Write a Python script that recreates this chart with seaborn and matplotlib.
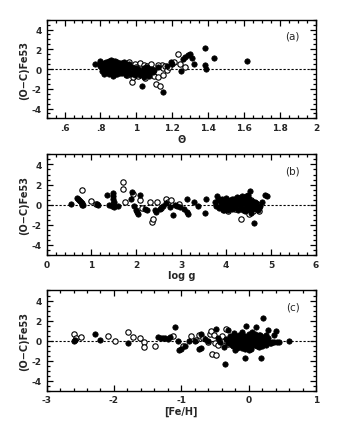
import numpy as np
import pandas as pd
import matplotlib
matplotlib.use("Agg")
import matplotlib.pyplot as plt
from matplotlib.ticker import MultipleLocator, FuncFormatter
import seaborn as sns

# panel (a): residual vs theta
theta_fill_x = [0.77, 0.80, 0.80, 0.81, 0.81, 0.82, 0.82, 0.83, 0.83, 0.84, 0.84, 0.84, 0.85, 0.85,
                0.86, 0.86, 0.86, 0.87, 0.87, 0.87, 0.88, 0.88, 0.89, 0.89, 0.89, 0.90, 0.90, 0.91,
                0.91, 0.92, 0.92, 0.93, 0.93, 0.94, 0.94, 0.95, 0.95, 0.96, 0.97, 0.97, 0.98, 0.99,
                1.00, 1.01, 1.02, 1.03, 1.03, 1.04, 1.05, 1.06, 1.07, 1.08, 1.09, 1.10, 1.12, 1.15,
                1.17, 1.19, 1.20, 1.25, 1.26, 1.27, 1.29, 1.30, 1.31, 1.32, 1.38, 1.38, 1.39, 1.43,
                1.615, 0.81, 0.82, 0.83, 0.85, 0.86, 0.88, 0.90, 0.90, 0.92, 0.84, 0.87, 0.91,
                0.80, 0.82, 0.83, 0.85, 0.86, 0.88, 0.89, 0.91, 0.93, 0.94, 0.96, 0.98, 1.00, 1.02,
                1.04, 1.06, 0.85, 0.87, 0.89, 0.92, 0.95, 0.99, 1.03, 1.07]
theta_fill_y = [0.5, 0.83, 0.3, 0.1, -0.2, 0.6, -0.5, 0.4, 0.0, 0.7, -0.3, 0.2, 0.5, -0.1,
                0.9, 0.3, -0.4, 0.6, 0.1, -0.7, 0.4, -0.2, 0.7, 0.0, -0.5, 0.3, -0.3, 0.6,
                0.1, 0.4, -0.4, 0.2, -0.1, 0.5, -0.6, 0.0, 0.3, -0.3, 0.2, -0.5, 0.1, -0.2,
                -0.4, 0.0, -0.6, -0.3, -1.73, 0.1, -0.5, -0.2, -0.7, 0.0, -0.3, -0.1, 0.2, -2.33,
                0.3, 0.67, 0.5, -0.17, 1.0, 1.17, 1.4, 1.57, 1.07, 0.5, 2.17, 0.43, 0.0, 1.07,
                0.83, 0.5, 0.2, -0.3, 0.8, 0.0, 0.8, 0.5, 0.0, -0.2, -0.1, 0.35, -0.45,
                0.6, -0.1, 0.7, 0.2, 0.5, -0.3, 0.4, -0.1, 0.7, 0.2, 0.5, -0.4, 0.1, -0.2,
                -0.8, 0.2, -0.5, 0.8, -0.1, 0.6, -0.2, -0.6, -0.5, -0.4]
theta_open_x = [0.88, 0.93, 0.95, 0.96, 0.975, 0.98, 0.99, 1.00, 1.01, 1.02, 1.03, 1.04, 1.05, 1.06,
                1.07, 1.08, 1.09, 1.10, 1.11, 1.12, 1.13, 1.14, 1.15, 1.16, 1.17, 1.18, 1.21, 1.233,
                1.24, 1.27, 1.15, 1.05, 0.97, 1.12]
theta_open_y = [-0.5, 0.6, -0.6, 0.7, -1.33, -0.8, 0.5, 0.2, -0.7, 0.6, -0.1, 0.4, -0.9, 0.3,
                -0.4, 0.5, -0.1, -0.75, -1.5, -0.8, -1.73, 0.4, 0.1, 0.3, -0.1, 0.2, 0.7, 1.5,
                0.5, 0.2, -0.6, 0.1, 0.0, 0.4]

# panel (b): residual vs log g
logg_fill_x = [0.54, 0.68, 0.70, 0.72, 0.74, 0.76, 0.78, 0.80, 0.82, 1.12, 1.15, 1.35, 1.40, 1.45,
               1.48, 1.48, 1.49, 1.50, 1.50, 1.60, 1.89, 1.91, 1.95, 2.00, 2.02, 2.03, 2.07, 2.20,
               2.23, 2.41, 2.43, 2.52, 2.60, 2.65, 2.75, 2.81, 2.85, 2.90, 2.97, 3.05, 3.12, 3.13,
               3.16, 3.29, 3.38, 3.52, 3.56, 3.75, 3.78, 3.80, 3.82, 3.85, 3.88, 3.90, 3.92, 3.95,
               3.97, 4.00, 4.02, 4.05, 4.07, 4.10, 4.12, 4.15, 4.18, 4.20, 4.22, 4.25, 4.27, 4.30,
               4.32, 4.35, 4.38, 4.40, 4.42, 4.45, 4.47, 4.48, 4.50, 4.52, 4.52, 4.55, 4.57, 4.60,
               4.62, 4.63, 4.65, 4.70, 4.75, 4.79, 4.86, 4.90, 4.45, 4.50, 4.05,
               3.83, 3.87, 3.93, 3.98, 4.03, 4.08, 4.13, 4.17, 4.23, 4.28, 4.33, 4.37, 4.43, 4.46,
               4.49, 4.53, 4.58, 4.61, 4.66, 4.72, 3.95, 4.25, 4.35, 4.55]
logg_fill_y = [0.07, 0.7, 0.6, 0.5, 0.4, 0.3, 0.2, 0.0, -0.05, 0.05, 0.0, 1.0, 0.0, -0.1,
               1.2, 0.9, 0.6, 0.3, -0.2, -0.1, 0.57, 1.23, -0.1, -0.5, -0.7, -0.93, 1.0, -0.43,
               -0.57, -0.5, -0.77, -0.4, -0.1, 0.2, -0.2, -1.03, 0.0, -0.1, -0.27, -0.4, 0.57, -0.77,
               -0.93, 0.3, -0.1, -0.87, 0.57, 0.3, -0.1, 0.9, 0.5, -0.3, 0.2, 0.6, -0.5, 0.0,
               0.4, 0.7, -0.2, 0.3, 0.1, 0.5, -0.4, 0.2, 0.6, -0.1, 0.3, 0.8, -0.5, 0.1,
               0.5, -0.3, 0.2, 0.7, -0.6, 0.0, 0.4, 1.0, -0.2, 1.33, 0.3, -0.8, 0.1, -0.4,
               -1.83, 0.3, -0.2, -0.5, -0.1, 0.23, 1.0, 0.83, 0.9, 0.6, -0.5,
               0.6, -0.2, 0.3, -0.3, 0.5, -0.1, 0.6, -0.3, 0.4, 0.0, 0.6, -0.5, 0.5, -0.4,
               0.8, -0.5, 0.4, 0.0, 0.2, -0.3, -0.5, 0.2, 0.9, -0.2]
logg_open_x = [0.79, 1.00, 1.11, 1.47, 1.71, 1.71, 1.74, 1.93, 2.08, 2.12, 2.30, 2.34, 2.36, 2.45,
               2.55, 2.67, 2.70, 2.78, 2.95, 3.90, 4.00, 4.05, 4.15, 4.20, 4.28, 4.34, 4.40, 4.45,
               4.50, 4.55, 4.60, 4.65, 4.68, 4.72, 3.85, 4.10]
logg_open_y = [1.47, 0.4, 0.07, 0.1, 2.23, 1.57, 0.23, 1.07, 0.47, -0.33, 0.23, -1.77, -1.43, 0.3,
               -0.3, 0.57, 0.3, 0.5, 0.1, -0.3, 0.2, -0.6, 0.5, -0.4, 0.7, -1.43, -0.2, 0.3,
               -0.9, 0.5, -0.6, -0.3, 0.1, -0.6, 0.1, 0.0]

# panel (c): residual vs [Fe/H]
feh_fill_x = [-2.60, -2.58, -2.28, -2.21, -1.79, -1.34, -1.30, -1.27, -1.24, -1.20, -1.17, -1.09,
              -1.05, -1.04, -1.00, -0.95, -0.88, -0.80, -0.71, -0.71, -0.73, -0.65, -0.60, -0.49,
              -0.45, -0.42, -0.35, -0.36, -0.30, -0.28, -0.25, -0.22, -0.20, -0.18, -0.15, -0.13,
              -0.10, -0.08, -0.06, -0.05, -0.04, -0.02, 0.00, 0.02, 0.04, 0.05, 0.07, 0.09, 0.11,
              0.12, 0.14, 0.16, 0.18, 0.18, 0.20, 0.22, 0.23, 0.25, 0.27, 0.29, 0.31, 0.35, 0.37,
              0.41, 0.42, 0.45, 0.60, -0.33, -0.27, -0.23, -0.17, -0.12, -0.07, -0.03, 0.01, 0.03,
              0.06, 0.08, 0.10, 0.13, 0.15, 0.17, -0.20, 0.00, -0.10, 0.05,
              -0.28, -0.24, -0.21, -0.19, -0.16, -0.14, -0.11, -0.09, -0.06, -0.04, -0.01, 0.02,
              0.04, 0.07, 0.09, 0.12, 0.14, 0.17, 0.19, 0.21, 0.24, 0.26, 0.28, -0.30, -0.26,
              -0.20, -0.15, -0.10, -0.05, 0.00, 0.05, 0.10, 0.15, 0.20, 0.25, 0.33, 0.38]
feh_fill_y = [-0.07, 0.05, 0.67, 0.07, -0.27, 0.4, 0.3, 0.25, 0.3, 0.2, 0.35, 1.4,
              0.0, -0.93, -0.87, -0.5, 0.0, 0.0, 0.63, -0.77, -0.8, 0.2, 0.0, 1.13,
              0.3, -0.1, -2.33, -0.6, 1.07, 0.5, -0.4, 0.8, 0.1, -0.7, 0.4, -0.2,
              0.6, -0.5, -1.77, 0.2, 1.5, -0.3, 0.5, 0.0, -0.8, 0.3, -0.2, 0.7, 1.33,
              -0.5, 0.1, -0.3, -1.7, 0.4, -0.1, 2.23, 0.2, -0.4, 0.0, 1.07, -0.2, -0.1, 0.57,
              0.97, -0.1, -0.15, 0.0, 0.2, -0.2, 0.3, -0.4, 0.3, 0.0, -0.6, 0.7, 0.2,
              -0.4, 0.4, -0.1, 0.5, -0.6, 0.2, -0.9, -0.9, 0.9, 0.9,
              0.1, -0.5, 0.5, 0.0, -0.6, 0.6, -0.3, 0.3, -0.8, 0.1, 0.4, -0.6,
              0.6, 0.1, -0.4, 0.3, -0.1, 0.6, -0.3, 0.4, 0.1, -0.2, 0.3, -0.2, 0.4,
              -0.3, 0.2, -0.7, 0.5, -0.1, 0.1, -0.2, 0.6, -0.5, 0.6, -0.2, -0.15]
feh_open_x = [-2.59, -2.56, -2.49, -2.09, -1.99, -1.79, -1.71, -1.61, -1.56, -1.56, -1.39, -1.12,
              -0.97, -0.85, -0.78, -0.74, -0.68, -0.57, -0.56, -0.52, -0.50, -0.55, -0.49, -0.45,
              -0.40, -0.33, -0.30, -0.25, -0.15, -0.05, 0.05, 0.10, -0.60, -0.40]
feh_open_y = [0.63, 0.23, 0.4, 0.5, -0.03, 0.9, 0.4, 0.3, -0.17, -0.6, -0.53, 0.5,
              -0.5, 0.5, 0.07, 0.57, 0.3, 0.67, 1.0, 0.57, -0.2, -1.33, -1.43, -0.4,
              0.0, 1.17, -0.3, 0.2, -0.2, 0.3, -0.3, 0.1, -0.1, 0.5]

sns.set_style("ticks")
plt.rcParams['font.family'] = ['DejaVu Sans']

fig = plt.figure(figsize=(3.5, 4.39), dpi=100)
boxes = [[0.133, 0.728, 0.77, 0.225],
         [0.133, 0.417, 0.77, 0.229],
         [0.133, 0.108, 0.77, 0.228]]

panels = [
    (theta_fill_x, theta_fill_y, theta_open_x, theta_open_y, (0.5, 2), 0.2, 0.05, "Θ", "(a)"),
    (logg_fill_x, logg_fill_y, logg_open_x, logg_open_y, (0, 6), 1, 0.2, "log g", "(b)"),
    (feh_fill_x, feh_fill_y, feh_open_x, feh_open_y, (-3, 1), 1, 0.2, "[Fe/H]", "(c)"),
]


def fmt_a(v, pos):
    s = "%g" % round(v, 2)
    if s.startswith("0."):
        s = s[1:]
    return s


for i, (fx, fy, ox, oy, xlim, major, minor, xlab, tag) in enumerate(panels):
    ax = fig.add_axes(boxes[i])
    df_f = pd.DataFrame({"x": fx, "y": fy})
    df_o = pd.DataFrame({"x": ox, "y": oy})
    ax.axhline(0, color="black", lw=0.8, ls=(0, (2, 1.6)), zorder=1)
    sns.scatterplot(data=df_o, x="x", y="y", ax=ax, s=15, facecolor="white",
                    edgecolor="black", linewidth=0.8, zorder=3)
    sns.scatterplot(data=df_f, x="x", y="y", ax=ax, s=15, color="black",
                    edgecolor="black", linewidth=0.5, zorder=4)
    ax.set_xlim(*xlim)
    ax.set_ylim(-5, 5)
    ax.xaxis.set_major_locator(MultipleLocator(major))
    ax.xaxis.set_minor_locator(MultipleLocator(minor))
    ax.yaxis.set_major_locator(MultipleLocator(2))
    ax.yaxis.set_minor_locator(MultipleLocator(0.5))
    if i == 0:
        ax.xaxis.set_major_formatter(FuncFormatter(fmt_a))
    else:
        ax.xaxis.set_major_formatter(FuncFormatter(lambda v, p: "%g" % v))
    ax.yaxis.set_major_formatter(FuncFormatter(lambda v, p: "%g" % v))
    ax.tick_params(which="both", direction="in", top=True, right=True, color="black",
                   width=0.9, labelsize=6.5)
    ax.tick_params(which="major", length=4)
    ax.tick_params(which="minor", length=2.2)
    for lab in ax.get_xticklabels() + ax.get_yticklabels():
        lab.set_fontweight("bold")
    for sp in ax.spines.values():
        sp.set_linewidth(1.0)
        sp.set_color("black")
    ax.set_xlabel(xlab, fontsize=7, fontweight="bold", labelpad=1)
    ax.set_ylabel("(O−C)Fe53", fontsize=7, fontweight="bold", labelpad=2)
    ax.text(0.94, 0.84, tag, transform=ax.transAxes, fontsize=7.5, ha="right", va="center")

fig.savefig("out.png", dpi=100)
